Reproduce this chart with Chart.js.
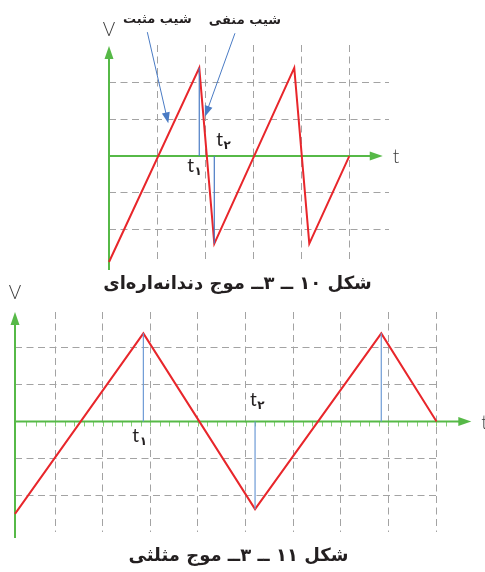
<!DOCTYPE html>
<html lang="fa">
<head>
<meta charset="utf-8">
<script src="https://cdn.jsdelivr.net/npm/chart.js@4.4.1/dist/chart.umd.min.js"></script>
<style>
  html, body { margin: 0; padding: 0; background: #fff; }
  body { width: 485px; height: 572px; position: relative; overflow: hidden; }
  canvas { position: absolute; left: 0; }
  #chartSaw { top: 0; }
  #chartTri { top: 277px; }
  .caption {
    position: absolute; left: 0; width: 485px; text-align: center;
    direction: rtl; font-family: "DejaVu Sans", sans-serif; font-weight: bold;
    font-size: 18px; line-height: 24px; color: #231f20;
  }
  #capSaw { top: 271px; left: -5px; }
  #capTri { top: 543px; left: -4px; }
</style>
</head>
<body>
<canvas id="chartSaw" width="485" height="276"></canvas>
<canvas id="chartTri" width="485" height="275"></canvas>
<div class="caption" id="capSaw">شکل ۱۰ ــ ۳ــ موج دندانه‌اره‌ای</div>
<div class="caption" id="capTri">شکل ۱۱ ــ ۳ــ موج مثلثی</div>
<script>
// units: one grid division in time (x) and in voltage (y)

// fig 3-10, sawtooth
var sawX = [0, 1.873, 2.185, 3.844, 4.156, 4.986];
var sawY = [-2.88, 2.40, -2.38, 2.40, -2.38, 0];
var sawGridX = [1, 2, 3, 4, 5];
var sawGridY = [-2, -1, 1, 2];
var sawMarkX = [1.873, 2.185];
var sawMarkY = [2.40, -2.38];
var sawMarkText = ["۱", "۲"];

// fig 3-11, triangle
var triX = [0, 2.695, 5.04, 7.69, 8.85];
var triY = [-2.51, 2.39, -2.38, 2.39, 0];
var triGridX = [0.84, 1.84, 2.84, 3.84, 4.84, 5.84, 6.84, 7.84, 8.84];
var triGridY = [-2, -1, 1, 2];
var triMarkX = [2.695, 5.04, 7.69];
var triMarkY = [2.39, -2.38, 2.39];
var triMarkText = ["۱", "۲", ""];

var RED = "#e8262b";
var GREEN = "#56b947";
var GRID = "#a3a3a3";
var BLUE = "#4a7bc4";
var INK = "#231f20";

function points(xs, ys) {
  return xs.map(function (x, i) { return { x: x, y: ys[i] }; });
}

function markDatasets(xs, ys, color) {
  return xs.map(function (x, i) {
    return {
      data: [{ x: x, y: 0 }, { x: x, y: ys[i] }],
      showLine: true, borderColor: color, borderWidth: 1.2,
      pointRadius: 0, clip: false,
    };
  });
}

function fixedTicks(values) {
  return function (scale) {
    scale.ticks = values.map(function (v) { return { value: v }; });
  };
}

function arrowHead(ctx, x, y, angle, len, half) {
  ctx.save();
  ctx.translate(x, y);
  ctx.rotate(angle);
  ctx.beginPath();
  ctx.moveTo(0, 0);
  ctx.lineTo(-len, -half);
  ctx.lineTo(-len, half);
  ctx.closePath();
  ctx.fill();
  ctx.restore();
}

var scopePlugin = {
  id: "scope",
  beforeDatasetsDraw: function (chart, args, o) {
    var ctx = chart.ctx;
    var xs = chart.scales.x, ys = chart.scales.y;
    var x0 = xs.getPixelForValue(0), y0 = ys.getPixelForValue(0);
    var xTip = xs.getPixelForValue(o.xTip);
    var yTip = ys.getPixelForValue(o.yTip);
    var yEnd = ys.getPixelForValue(o.yEnd);
    ctx.save();
    if (o.minorStep) {
      ctx.strokeStyle = "#86cf77";
      ctx.lineWidth = 1;
      ctx.beginPath();
      var n = Math.round((o.minorTo - o.minorFrom) / o.minorStep);
      for (var i = 0; i <= n; i++) {
        var px = Math.round(xs.getPixelForValue(o.minorFrom + i * o.minorStep)) + 0.5;
        ctx.moveTo(px, y0);
        ctx.lineTo(px, y0 + 5);
      }
      ctx.stroke();
    }
    ctx.strokeStyle = GREEN;
    ctx.fillStyle = GREEN;
    ctx.lineWidth = 2;
    ctx.beginPath();
    ctx.moveTo(x0, yEnd);
    ctx.lineTo(x0, yTip + 11);
    ctx.moveTo(x0 - 1, y0);
    ctx.lineTo(xTip - 11, y0);
    ctx.stroke();
    arrowHead(ctx, x0, yTip, -Math.PI / 2, 13, 4.5);
    arrowHead(ctx, xTip, y0, 0, 13, 4.5);
    ctx.restore();
  },
  afterDatasetsDraw: function (chart, args, o) {
    var ctx = chart.ctx;
    var xs = chart.scales.x, ys = chart.scales.y;
    var x0 = xs.getPixelForValue(0), y0 = ys.getPixelForValue(0);
    ctx.save();
    ctx.fillStyle = "#3a3a3a";
    ctx.font = "300 19px Lato, 'DejaVu Sans', sans-serif";
    ctx.textAlign = "center";
    ctx.textBaseline = "middle";
    ctx.fillText("V", x0, ys.getPixelForValue(o.vLabelY));
    ctx.textAlign = "left";
    ctx.fillText("t", xs.getPixelForValue(o.xTip) + 10, y0 + 1);

    // t1, t2 under / over the marker lines
    ctx.fillStyle = INK;
    ctx.textBaseline = "alphabetic";
    o.marks.forEach(function (m, i) {
      if (!o.markText[i]) return;
      var bx = xs.getPixelForValue(o.markX[i]) + m.dx;
      var by = y0 + m.dy;
      ctx.font = "19px Lato, 'DejaVu Sans', sans-serif";
      ctx.fillText("t", bx, by);
      var w = ctx.measureText("t").width;
      ctx.font = "bold 12px 'DejaVu Sans', sans-serif";
      ctx.fillText(o.markText[i], bx + w + 0.5, by + 3);
    });

    // slope notes with arrows
    (o.notes || []).forEach(function (n) {
      var sx = xs.getPixelForValue(n.from[0]), sy = ys.getPixelForValue(n.from[1]);
      var tx = xs.getPixelForValue(n.to[0]), ty = ys.getPixelForValue(n.to[1]);
      var ang = Math.atan2(ty - sy, tx - sx);
      ctx.strokeStyle = BLUE;
      ctx.fillStyle = BLUE;
      ctx.lineWidth = 1;
      ctx.beginPath();
      ctx.moveTo(sx, sy);
      ctx.lineTo(tx - Math.cos(ang) * 9, ty - Math.sin(ang) * 9);
      ctx.stroke();
      arrowHead(ctx, tx, ty, ang, 11, 4);
      ctx.fillStyle = INK;
      ctx.font = "bold 13px 'DejaVu Sans', sans-serif";
      ctx.textAlign = "center";
      ctx.textBaseline = "middle";
      ctx.direction = "rtl";
      ctx.fillText(n.text, sx + 10, sy - 13);
      ctx.direction = "ltr";
    });
    ctx.restore();
  },
};

function scopeChart(el, cfg) {
  var grid = { color: GRID, lineWidth: 1, drawTicks: false };
  var border = { display: false, dash: [7, 4.5] };
  return new Chart(el, {
    type: "scatter",
    data: {
      datasets: markDatasets(cfg.markX, cfg.markY, cfg.markColor).concat([{
        data: points(cfg.x, cfg.y),
        showLine: true, borderColor: RED, borderWidth: 2,
        pointRadius: 0, tension: 0, clip: false,
      }]),
    },
    options: {
      responsive: false,
      animation: false,
      events: [],
      layout: { padding: cfg.padding },
      plugins: {
        legend: { display: false },
        tooltip: { enabled: false },
        scope: cfg.scope,
      },
      scales: {
        x: {
          type: "linear", min: cfg.xMin, max: cfg.xMax,
          afterBuildTicks: fixedTicks(cfg.gridX),
          ticks: { display: false }, grid: grid, border: border,
        },
        y: {
          type: "linear", min: cfg.yMin, max: cfg.yMax,
          afterBuildTicks: fixedTicks(cfg.gridY),
          ticks: { display: false }, grid: grid, border: border,
        },
      },
    },
    plugins: [scopePlugin],
  });
}

scopeChart(document.getElementById("chartSaw"), {
  x: sawX, y: sawY, gridX: sawGridX, gridY: sawGridY,
  markX: sawMarkX, markY: sawMarkY, markColor: BLUE,
  xMin: 0, xMax: 5.81, yMin: -2.88, yMax: 3.02,
  padding: { left: 109, right: 96, top: 45, bottom: 14 },
  scope: {
    xTip: 5.68, yTip: 2.99, yEnd: -3.1, vLabelY: 3.43,
    markX: sawMarkX, markText: sawMarkText,
    marks: [{ dx: -12, dy: 16 }, { dx: 2, dy: -10 }],
    notes: [
      { text: "شیب مثبت", from: [0.795, 3.37], to: [1.23, 0.89] },
      { text: "شیب منفی", from: [2.614, 3.34], to: [1.99, 1.07] },
    ],
  },
});

scopeChart(document.getElementById("chartTri"), {
  x: triX, y: triY, gridX: triGridX, gridY: triGridY,
  markX: triMarkX, markY: triMarkY, markColor: "#6e9bd6",
  xMin: 0, xMax: 8.86, yMin: -3.0, yMax: 2.97,
  padding: { left: 15, right: 48, top: 35, bottom: 20 },
  scope: {
    xTip: 9.58, yTip: 2.97, yEnd: -3.16, vLabelY: 3.49,
    minorFrom: 0.24, minorTo: 9.04, minorStep: 0.2,
    markX: triMarkX, markText: triMarkText,
    marks: [{ dx: -11, dy: 21 }, { dx: -5, dy: -15 }, { dx: 0, dy: 0 }],
  },
});
</script>
</body>
</html>
